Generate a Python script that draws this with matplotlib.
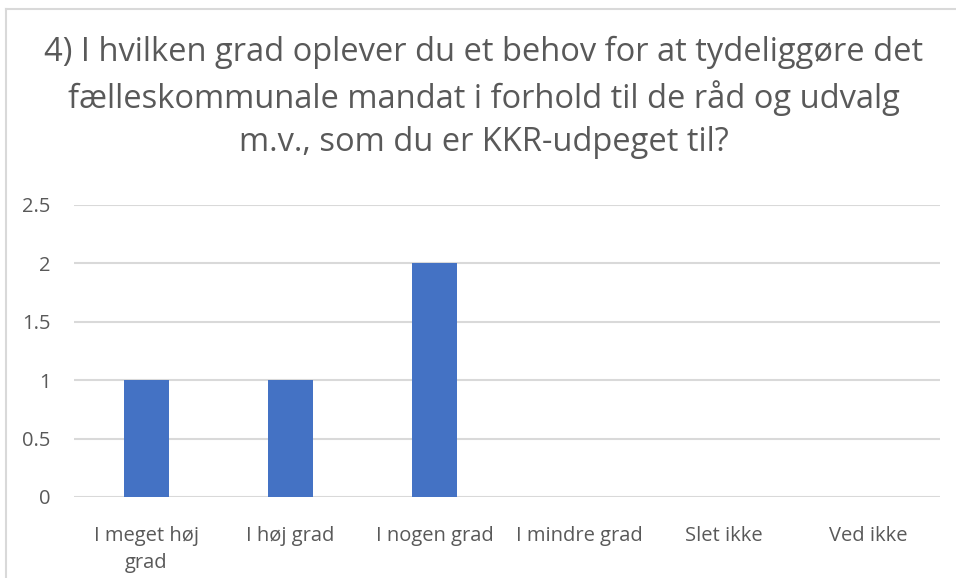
import matplotlib
matplotlib.use('Agg')
import matplotlib.pyplot as plt
from matplotlib.lines import Line2D

# Data
categories = ['I meget høj\ngrad', 'I høj grad', 'I nogen grad', 'I mindre grad', 'Slet ikke', 'Ved ikke']
values = [1, 1, 2, 0, 0, 0]
yticks = [0, 0.5, 1, 1.5, 2, 2.5]
title = ('4) I hvilken grad oplever du et behov for at tydeliggøre det\n'
         'fælleskommunale mandat i forhold til de råd og udvalg\n'
         'm.v., som du er KKR-udpeget til?')

plt.rcParams['font.family'] = ['Open Sans', 'DejaVu Sans']

W, H = 956, 578
fig = plt.figure(figsize=(W / 100, H / 100), dpi=100)
fig.patch.set_facecolor('white')

border = '#D9D9D9'
fig.add_artist(Line2D([6 / W, 6 / W], [0, 1 - 9 / H], color=border, lw=1.5))
fig.add_artist(Line2D([6 / W, 1], [1 - 9 / H, 1 - 9 / H], color=border, lw=1.5))

ax = fig.add_axes([74 / W, 81 / H, (940 - 74) / W, 292 / H])
x = range(len(categories))
ax.bar(x, values, width=0.313, color='#4472C4', zorder=3)
ax.set_xlim(-0.5, len(categories) - 0.5)
ax.set_ylim(0, 2.5)
ax.set_yticks(yticks)
ax.set_yticklabels(['0', '0.5', '1', '1.5', '2', '2.5'])
ax.set_xticks(list(x))
ax.set_xticklabels(categories, linespacing=1.45)
ax.grid(axis='y', color=border, lw=1.5, zorder=0)
for s in ax.spines.values():
    s.set_visible(False)
ax.tick_params(axis='both', length=0, colors='#595959', labelsize=14.5)
ax.tick_params(axis='y', pad=17)
ax.tick_params(axis='x', pad=21)

fig.text(484 / W, 1 - 97 / H, title, ha='center', va='center', fontsize=23.5,
         color='#595959', linespacing=1.4)

fig.savefig('out.png', dpi=100)
